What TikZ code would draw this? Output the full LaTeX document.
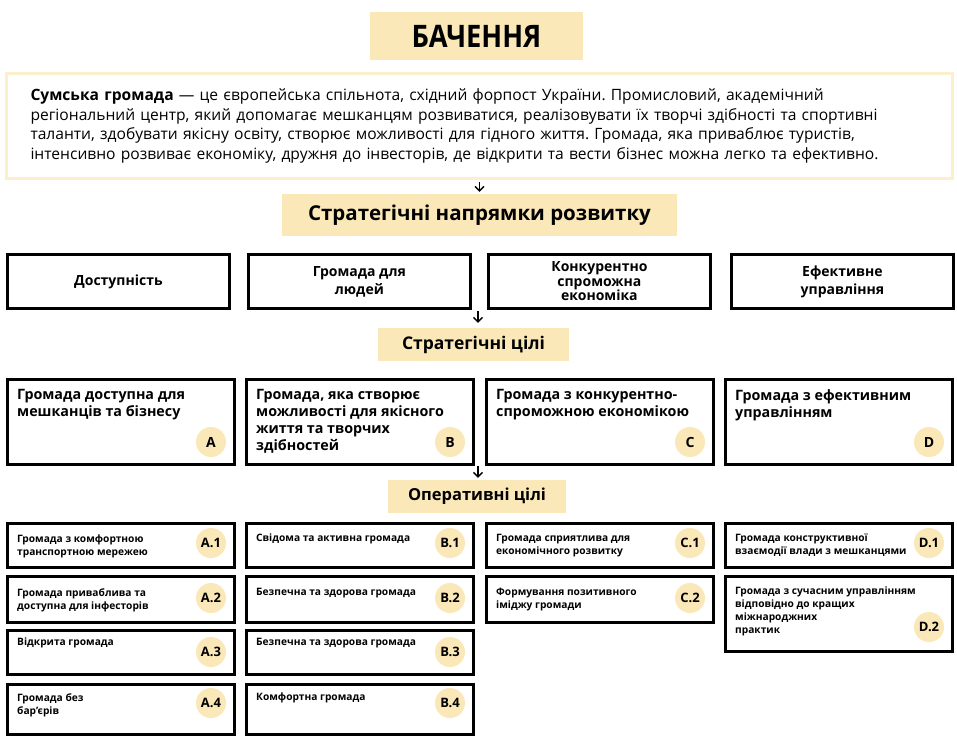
\documentclass[tikz,border=0pt]{standalone}
\usepackage{fontspec}
\setmainfont{Open Sans}
\usetikzlibrary{calc,arrows.meta}
\definecolor{ylw}{HTML}{FBE8B8}
\definecolor{ylwb}{HTML}{FCEFCB}
\frenchspacing
\tikzset{
  hdr/.style={fill=ylw, inner sep=0pt, font=\bfseries},
  bbox/.style={draw=black, line width=2.8pt, inner sep=0pt, anchor=north west, minimum width=227pt},
  dirbox/.style={draw=black, line width=2.8pt, inner sep=0pt, anchor=north west, minimum width=222pt, minimum height=54pt, align=center, font=\fontsize{14}{18}\bfseries},
  goaltext/.style={anchor=north west, inner sep=0pt, align=left, font=\fontsize{14.3}{17}\bfseries},
  optext/.style={anchor=north west, inner sep=0pt, align=left, font=\fontsize{10.2}{13}\bfseries},
  badge/.style={circle, fill=ylw, inner sep=0pt, minimum size=30pt, font=\fontsize{14}{14}\bfseries},
  sbadge/.style={circle, fill=ylw, inner sep=0pt, minimum size=30pt, font=\fontsize{13}{13}\bfseries},
  arr/.style={-{Straight Barb[length=4.5pt,width=9pt]}, line width=1.3pt},
}
% name, x, y, height, text top, text, badge, badge y
\newcommand\opbox[8]{%
  \node[bbox, minimum height=#4pt] (#1) at (#2,#3) {};
  \node[optext] (#1t) at (#2+11,#5) {#6};
  \node[sbadge] (#1b) at (#2+205,#8) {#7};
}
\begin{document}
\begin{tikzpicture}[x=1pt,y=-1pt]
\useasboundingbox (0,0) rectangle (957,740);
\fill[white] (0,0) rectangle (957,740);

% title
\node[hdr, minimum width=213pt, minimum height=48pt, font=\fontsize{31}{31}\bfseries] (title) at (476.5,36) {\scalebox{0.88}[1]{БАЧЕННЯ}};

% vision
\node[draw=ylwb, line width=3pt, anchor=north west, minimum width=946pt, minimum height=105pt,
      inner xsep=24pt, inner ysep=0pt, text width=898pt, align=left, font=\fontsize{15.6}{19.5}\selectfont] (vision) at (5,72)
 {\textbf{Сумська громада} — це європейська спільнота, східний форпост України. Промисловий, академічний\\
 регіональний центр, який допомагає мешканцям розвиватися, реалізовувати їх творчі здібності та спортивні\\
 таланти, здобувати якісну освіту, створює можливості для гідного життя. Громада, яка приваблює туристів,\\
 інтенсивно розвиває економіку, дружня до інвесторів, де відкрити та вести бізнес можна легко та ефективно.};

% strategic directions
\node[hdr, minimum width=395pt, minimum height=42pt, font=\fontsize{20.5}{20.5}\bfseries] (dirs) at (479.5,215) {Стратегічні напрямки розвитку};

\node[dirbox] (d1) at (6,253) {Доступність};
\node[dirbox] (d2) at (247,253) {Громада для\\людей};
\node[dirbox, font=\fontsize{14}{14.5}\bfseries] (d3) at (487,253) {Конкурентно\\спроможна\\економіка};
\node[dirbox] (d4) at (730,253) {Ефективне\\управління};

% strategic goals
\node[hdr, minimum width=191pt, minimum height=33pt, font=\fontsize{17.5}{17.5}\bfseries] (goals) at (473.5,344.5) {Стратегічні цілі};

\node[bbox, minimum height=85pt] (gA) at (6,378) {};
\node[bbox, minimum height=85pt] (gB) at (245,378) {};
\node[bbox, minimum height=85pt] (gC) at (485,378) {};
\node[bbox, minimum height=85pt] (gD) at (724,378) {};
\node[goaltext] (gAt) at (17,389) {Громада доступна для\\мешканців та бізнесу};
\node[goaltext] (gBt) at (256,389) {Громада, яка створює\\можливості для якісного\\життя та творчих\\здібностей};
\node[goaltext] (gCt) at (496,389) {Громада з конкурентно-\\спроможною економікою};
\node[goaltext] (gDt) at (735,389) {Громада з ефективним\\управлінням};
\node[badge] (gAb) at (211,442) {A};
\node[badge] (gBb) at (450,442) {B};
\node[badge] (gCb) at (690,442) {C};
\node[badge] (gDb) at (929,442) {D};

% operative goals
\node[hdr, minimum width=178pt, minimum height=33pt, font=\fontsize{16.5}{16.5}\bfseries] (ops) at (477,496.5) {Оперативні цілі};

\opbox{a1}{6}{522}{44}{535}{Громада з комфортною\\транспортною мережею}{A.1}{543}
\opbox{a2}{6}{575}{46}{588}{Громада приваблива та\\доступна для інфесторів}{A.2}{598}
\opbox{a3}{6}{629}{44}{638}{Відкрита громада}{A.3}{652}
\opbox{a4}{6}{683}{50}{693}{Громада без\\бар’єрів}{A.4}{703}

\opbox{b1}{245}{522}{44}{534}{Свідома та активна громада}{B.1}{543}
\opbox{b2}{245}{575}{46}{588}{Безпечна та здорова громада}{B.2}{598}
\opbox{b3}{245}{629}{44}{638}{Безпечна та здорова громада}{B.3}{652}
\opbox{b4}{245}{683}{50}{693}{Комфортна громада}{B.4}{703}

\opbox{c1}{485}{522}{44}{534}{Громада сприятлива для\\економічного розвитку}{C.1}{543}
\opbox{c2}{485}{575}{46}{588}{Формування позитивного\\іміджу громади}{C.2}{598}

\opbox{d1o}{724}{522}{44}{534}{Громада конструктивної\\взаємодії влади з мешканцями}{D.1}{543}
\opbox{d2o}{724}{575}{75}{587}{Громада з сучасним управлінням\\відповідно до кращих\\міжнароджних\\практик}{D.2}{627}

% arrows
\draw[arr, shorten <=2pt, shorten >=2pt] (vision.south) -- (vision.south |- dirs.north);
\coordinate (g1) at (478,311);
\draw[arr, shorten >=5pt] (g1) -- (g1 |- goals.north);
\coordinate (g2) at (478,466);
\draw[arr, shorten >=2pt] (g2) -- (g2 |- ops.north);
\end{tikzpicture}
\end{document}
